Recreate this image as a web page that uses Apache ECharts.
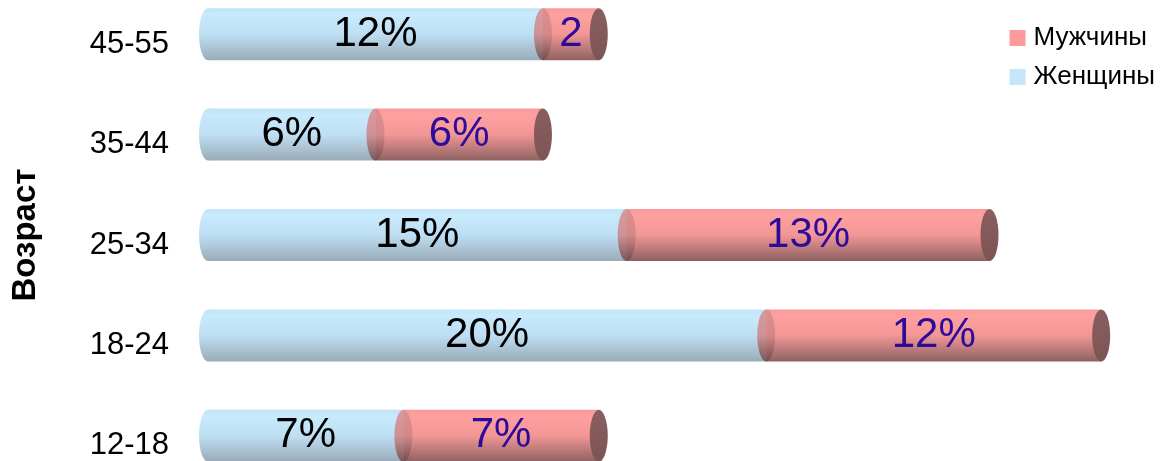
<!DOCTYPE html>
<html>
<head>
<meta charset="utf-8">
<script src="https://cdn.jsdelivr.net/npm/echarts@6/dist/echarts.min.js"></script>
<style>
html,body{margin:0;padding:0;background:#fff;}
#chart{width:1161px;height:461px;}
</style>
</head>
<body>
<div id="chart"></div>
<script>
const categories = ['12-18', '18-24', '25-34', '35-44', '45-55'];
const women = [7, 20, 15, 6, 12];
const men = [7, 12, 13, 6, 2];
const womenLabels = ['7%', '20%', '15%', '6%', '12%'];
const menLabels = ['7%', '12%', '13%', '6%', '2'];
const seriesNames = ['Мужчины', 'Женщины'];
const axisTitle = 'Возраст';

const FONT = '"Liberation Sans", Arial, sans-serif';

function grad(stops) {
  return new echarts.graphic.LinearGradient(0, 0, 0, 1, stops.map((c) => ({offset: c[0], color: c[1]})));
}

const blueFill = () => grad([[0, '#c2e3f7'], [0.12, '#c8eafd'], [0.5, '#bedff3'], [1, '#9aabb8']]);
const pinkFill = () => grad([[0, '#f89a9a'], [0.12, '#ffa0a0'], [0.5, '#f29696'], [1, '#8e6262']]);
const pinkStart = () => grad([[0, '#d88c8c'], [0.5, '#cf8585'], [1, '#6f4a4a']]);
const capFill = () => grad([[0, '#8a5e5e'], [1, '#7d5454']]);

function makeRender(kind) {
  return function (params, api) {
    const cat = api.value(2);
    const p0 = api.coord([api.value(0), cat]);
    const p1 = api.coord([api.value(1), cat]);
    const h = api.size([0, 1])[1] * 0.518;
    const ry = h / 2;
    const rx = 9;
    const cy = p0[1];
    const label = (kind === 'w' ? womenLabels : menLabels)[params.dataIndex];
    const children = [];
    if (kind === 'w') {
      children.push({type: 'circle', x: p0[0], y: cy, scaleX: rx / ry, shape: {cx: 0, cy: 0, r: ry}, style: {fill: blueFill()}});
      children.push({type: 'rect', shape: {x: p0[0], y: cy - ry, width: p1[0] - p0[0], height: h}, style: {fill: blueFill()}});
    } else {
      children.push({type: 'rect', shape: {x: p0[0], y: cy - ry, width: p1[0] - p0[0], height: h}, style: {fill: pinkFill()}});
      children.push({type: 'circle', x: p0[0], y: cy, scaleX: rx / ry, shape: {cx: 0, cy: 0, r: ry}, style: {fill: pinkStart(), opacity: 0.85}});
      children.push({type: 'circle', x: p1[0], y: cy, scaleX: rx / ry, shape: {cx: 0, cy: 0, r: ry}, style: {fill: capFill()}});
    }
    children.push({
      type: 'text',
      x: (p0[0] + p1[0]) / 2,
      y: cy,
      style: {
        text: label,
        fill: kind === 'w' ? '#000000' : '#2d0a9a',
        font: '42px ' + FONT,
        align: 'center',
        verticalAlign: 'middle'
      }
    });
    return {type: 'group', children: children};
  };
}

const womenData = categories.map((c, i) => [0, women[i], i]);
const menData = categories.map((c, i) => [women[i], women[i] + men[i], i]);

const chart = echarts.init(document.getElementById('chart'), null, {renderer: 'canvas'});
chart.setOption({
  animation: false,
  backgroundColor: '#ffffff',
  grid: {left: 208, right: 4, top: -16, bottom: -25, containLabel: false, outerBoundsMode: 'none'},
  xAxis: {type: 'value', min: 0, max: 34, show: false},
  yAxis: {
    type: 'category',
    data: categories,
    axisLine: {show: false},
    axisTick: {show: false},
    splitLine: {show: false},
    axisLabel: {
      color: '#000',
      fontSize: 31,
      fontFamily: FONT,
      margin: 39,
      verticalAlign: 'top',
      lineHeight: 20
    },
    name: axisTitle,
    nameLocation: 'middle',
    nameRotate: 90,
    nameGap: 166,
    nameTextStyle: {color: '#000', fontSize: 33, fontWeight: 'bold', fontFamily: FONT}
  },
  legend: {
    data: seriesNames,
    orient: 'vertical',
    right: 1,
    top: 20,
    icon: 'rect',
    itemWidth: 16,
    itemHeight: 16,
    itemGap: 13,
    textStyle: {color: '#000', fontSize: 26, fontFamily: FONT, padding: [0, 0, 0, 3]}
  },
  series: [
    {
      name: seriesNames[1],
      type: 'custom',
      coordinateSystem: 'cartesian2d',
      encode: {x: [0, 1], y: 2},
      itemStyle: {color: '#c6e6fb'},
      renderItem: makeRender('w'),
      data: womenData
    },
    {
      name: seriesNames[0],
      type: 'custom',
      coordinateSystem: 'cartesian2d',
      encode: {x: [0, 1], y: 2},
      itemStyle: {color: '#ff9a9a'},
      renderItem: makeRender('m'),
      data: menData
    }
  ]
});
</script>
</body>
</html>
